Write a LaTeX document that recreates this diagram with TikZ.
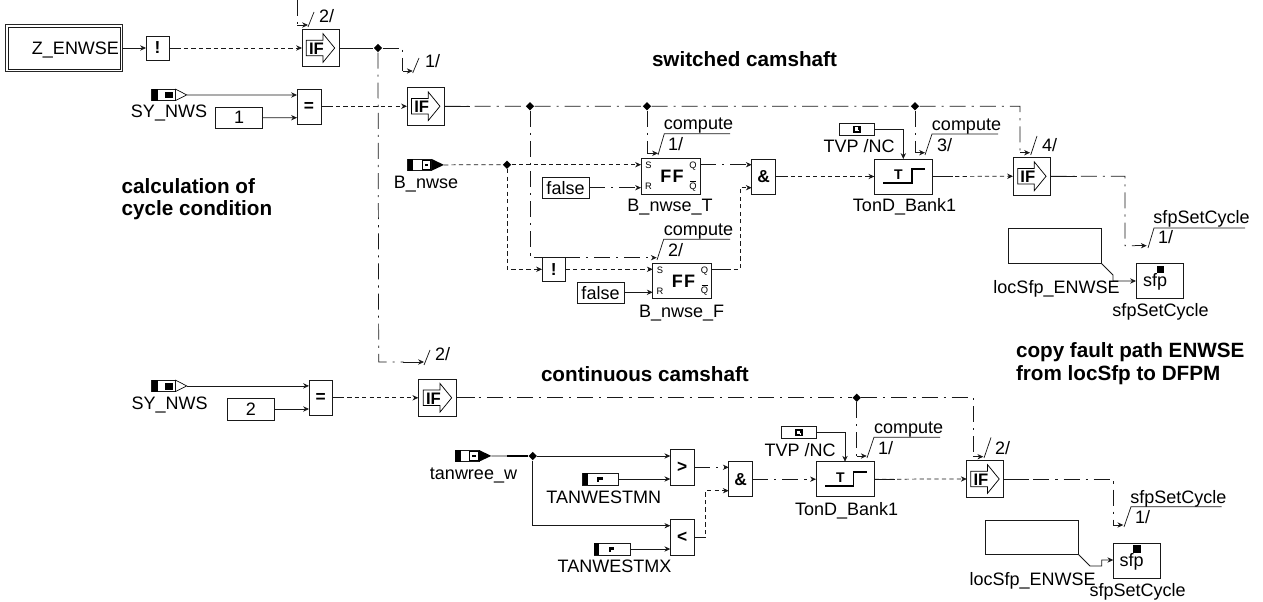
\documentclass[tikz,border=0pt]{standalone}
\usepackage{fontspec}
\setmainfont{Liberation Sans}
\usetikzlibrary{arrows.meta,shapes.geometric}
\newcommand\fsN{\fontsize{13.5}{15}\selectfont}
\newcommand\fsB{\fontsize{15.5}{17}\selectfont\bfseries}
\newcommand\fsS{\fontsize{7}{8}\selectfont}
% name x1 y1 x2 y2 text
\newcommand\blk[6]{\node[blk,minimum width={(#4-#2)*0.75pt},minimum height={(#5-#3)*0.75pt}] (#1) at ({(#2+#4)/2},{(#3+#5)/2}) {#6};}
\newcommand\lab[4][base]{\node[lbl,anchor=#1] (#2) at ({#3}) {#4};}
% IF block: name x1 y1 x2 y2
\newcommand\ifblk[5]{\blk{#1}{#2}{#3}{#4}{#5}{}
 \draw[shift={(#1.center)},line width=.55pt] (-14.2,-7.8) -- (2.5,-7.8) -- (2.5,-14.3) -- (14.2,0) -- (2.5,14.3) -- (2.5,7.8) -- (-14.2,7.8) -- cycle;
 \node[font=\fontsize{12.5}{14}\selectfont\bfseries,inner sep=0pt] (#1sym) at ([shift={(-4,0.5)}]#1.center) {IF};}
% flip-flop
\newcommand\ffblk[5]{\blk{#1}{#2}{#3}{#4}{#5}{}
 \node[font=\fontsize{13.5}{15}\selectfont\bfseries,inner sep=0pt] (#1f) at ([shift={(1.5,0)}]#1.center) {F\kern.8pt F};
 \node[font=\fsS,inner sep=0pt] (#1s) at ([shift={(-22,-10.5)}]#1.center) {S};
 \node[font=\fsS,inner sep=0pt] (#1r) at ([shift={(-22,10)}]#1.center) {R};
 \node[font=\fsS,inner sep=0pt] (#1q) at ([shift={(22.5,-10)}]#1.center) {Q};
 \node[font=\fsS,inner sep=0pt] (#1n) at ([shift={(22.5,10.5)}]#1.center) {Q};
 \draw[line width=.5pt] ([shift={(-3,-5.8)}]#1n.center) -- ([shift={(3,-5.8)}]#1n.center);}
% open signal tag: name x y
\newcommand\tagopen[3]{\blk{#1}{#2}{#3}{#2+23.5}{#3+11.7}{}
 \fill (#2,#3) rectangle (#2+6.5,#3+11.7);
 \fill (#2+13.5,#3+2.8) rectangle (#2+21.5,#3+9.5);
 \coordinate (#1tip) at (#2+35,#3+5.9);
 \draw[line width=.5pt] (#2+23.5,#3) -- (#1tip) -- (#2+23.5,#3+11.7);}
% filled signal tag
\newcommand\tagfill[3]{\blk{#1}{#2}{#3}{#2+24}{#3+11.7}{}
 \fill (#2,#3) rectangle (#2+5.5,#3+11.7);
 \draw[line width=.7pt] (#2+14.5,#3+1.8) rectangle (#2+23,#3+10);
 \fill (#2+16.8,#3+4.6) rectangle (#2+20.5,#3+7.2);
 \coordinate (#1tip) at (#2+36.3,#3+5.9);
 \fill (#2+24,#3) -- (#1tip) -- (#2+24,#3+11.7) -- cycle;}
% parameter tag with black left part
\newcommand\tagpar[3]{\blk{#1}{#2}{#3}{#2+35.6}{#3+11.7}{}
 \fill (#2,#3) rectangle (#2+5,#3+11.7);
 \fill (#2+14.5,#3+3.2) rectangle (#2+20,#3+6.8);
 \fill (#2+14.5,#3+3.2) rectangle (#2+16.5,#3+9);}
% TVP tag
\newcommand\tagtvp[3]{\blk{#1}{#2}{#3}{#2+35.6}{#3+12}{}
 \fill (#2+14.3,#3+2.6) rectangle (#2+21.8,#3+9.6);
 \fill[white] (#2+15.8,#3+4.1) rectangle (#2+19,#3+7.6);
 \fill[white] (#2+19,#3+6.4) rectangle (#2+20.4,#3+8.2);}
\tikzset{
 x=0.75pt,y=-0.75pt,
 >={Stealth[length=4.4pt,width=4pt]},
 wire/.style={line width=.55pt,draw=black!90},
 dotw/.style={wire,dash pattern=on 3.2pt off 2.4pt},
 ddw/.style={wire,dash pattern=on 12pt off 4.5pt on 1.6pt off 4.5pt},
 blk/.style={draw=black!90,line width=.6pt,fill=white,inner sep=0pt,outer sep=0pt,font=\fsN},
 dbl/.style={line width=.6pt,draw=black!85},
 lbl/.style={inner sep=0pt,outer sep=0pt,font=\fsN},
 bold/.style={inner sep=0pt,outer sep=0pt,font=\fsB,anchor=base west},
 jct/.style={diamond,fill=black,inner sep=0pt,minimum size=6.4pt},
}
\begin{document}
\begin{tikzpicture}
\useasboundingbox (0,0) rectangle (1263,602);
\fill[white] (0,0) rectangle (1263,602);
\coordinate (topfree) at (297,0);
% Z_ENWSE
\draw[dbl] (5.8,24.8) rectangle (122.2,71.2);
\blk{zen}{8}{27}{120}{69}{}
\lab[base east]{zent}{119,55}{Z\_ENWSE}
\blk{not1}{146}{36}{169}{60}{\fontsize{13}{15}\selectfont\bfseries !}
\ifblk{if1}{302}{29.5}{339}{66.5}
\draw[wire,->] (zen.east) ++(2,0) -- (not1.west);
\draw[dotw,->] (not1.east) -- (if1.west);
\draw[wire] (not1.east) -- ++(10,0);
\draw[ddw] (topfree) -- (297,25) coordinate (c1);
\coordinate (s1) at (308,25);
\draw[wire,->] (c1) -- (s1);
\draw[wire] (308,27) -- (314,12);
\lab[base west]{t2a}{319,23}{2/}
\node[jct] (j1) at (378,48) {};
\draw[wire] (if1.east) -- (j1.west);
\coordinate (c2) at (402.7,48);
\coordinate (c3) at (402.7,71);
\coordinate (s2) at (412.7,71);
\draw[ddw] (j1) -- (c2) -- (c3);
\draw[wire,->] (c3) -- (s2);
\draw[wire] (412.7,73) -- (419,58);
\lab[base west]{t1a}{425,68}{1/}
% SY_NWS 1
\tagopen{sy1}{151.7}{89}
\lab{sy1t}{169,118}{SY\_NWS}
\blk{c1b}{215.7}{107.5}{262.5}{128}{1}
\blk{eq1}{297}{89}{321}{124}{\fontsize{13}{15}\selectfont\bfseries =}
\ifblk{if2}{407}{87.5}{444.5}{125}
\coordinate (eq1a) at (297,95);
\coordinate (eq1b) at (297,117.7);
\draw[wire,->] (sy1tip) -- (eq1a);
\draw[wire,->] (c1b.east) -- (eq1b);
\draw[dotw,->] (eq1.east |- if2.west) -- (if2.west);
\draw[wire] (eq1.east |- if2.west) -- ++(10,0);
% main line switched
\node[jct] (j2) at (530,106.3) {};
\node[jct] (j3) at (647,106.3) {};
\node[jct] (j4) at (915,106.3) {};
\coordinate (c4) at (1020,106.3);
\coordinate (c5) at (1020,152.7);
\coordinate (s4) at (1030,152.7);
\draw[wire] (if2.east) -- ++(25,0);
\draw[ddw] (if2.east) -- (j2) -- (j3) -- (j4) -- (c4) -- (c5);
\draw[wire,->] (c5) -- (s4);
\draw[wire] (1030.7,155) -- (1037,136);
\lab[base west]{t4}{1042,152}{4/}
% vertical line from j1
\coordinate (c6) at (378.7,362);
\coordinate (s6) at (424,362);
\draw[ddw] (j1) -- (c6) -- ++(25,0);
\draw[wire,->] (403,362) -- (s6);
\draw[wire] (424,365) -- (430,350);
\lab[base west]{t2b}{435,360.5}{2/}
% B_nwse
\tagfill{bn}{407.7}{159}
\lab{bnt}{426,189}{B\_nwse}
\ffblk{ff1}{641}{158.3}{700}{194}
\blk{fa1}{542}{177.7}{589}{198.3}{false}
\lab{ff1t}{670,212}{B\_nwse\_T}
\node[jct] (j5) at (507,164.7) {};
\coordinate (ff1s) at (641,164.7);
\coordinate (ff1r) at (641,187.7);
\draw[dotw] (bntip) -- (j5);
\draw[dotw,->] (j5) -- (ff1s);
\draw[ddw,->] (fa1.east |- ff1r) -- (ff1r);
\coordinate (c7) at (647,153.3);
\coordinate (s7) at (658,153.3);
\draw[ddw] (j3) -- (c7);
\draw[wire,->] (c7) -- (s7);
\draw[wire] (658,155) -- (664.3,133.7) -- (730,133.7);
\lab[base]{tc1}{698.5,130}{compute}
\lab[base west]{t1b}{668,151}{1/}
% second FF
\blk{not2}{542}{257.7}{565.7}{281.3}{\fontsize{13}{15}\selectfont\bfseries !}
\ffblk{ff2}{652.7}{263.3}{711.3}{298.7}
\blk{fa2}{577}{282.3}{624}{303.3}{false}
\lab{ff2t}{681.7,317}{B\_nwse\_F}
\coordinate (c8) at (507,269.3);
\draw[dotw,->] (j5) -- (c8) -- (not2.west |- c8);
\coordinate (ff2s) at (652.7,269.3);
\coordinate (ff2r) at (652.7,292.3);
\draw[dotw,->] (not2.east |- c8) -- (ff2s);
\draw[wire,->] (fa2.east |- ff2r) -- (ff2r);
\coordinate (c9) at (530,257.7);
\coordinate (s9) at (656.7,257.7);
\draw[ddw,->] (j2) -- (c9) -- (s9);
\draw[wire] (657,260) -- (663.7,239.3) -- (730,239.3);
\lab[base]{tc2}{698.5,235.5}{compute}
\lab[base west]{t2c}{668,257}{2/}
% AND
\blk{and1}{751.7}{159}{775.7}{194}{\fontsize{13}{15}\selectfont\bfseries \&}
\coordinate (and1a) at (751.7,164.7);
\coordinate (and1b) at (751.7,187.7);
\draw[ddw,->] (700,164.7) -- (and1a);
\draw[wire] (700,164.7) -- ++(12,0);
\coordinate (c10) at (740,269.3);
\coordinate (c11) at (740,187.7);
\draw[dotw,->] (711.3,269.3) -- (c10) -- (c11) -- (and1b);
\draw[wire] (711.3,269.3) -- ++(15,0);
% TonD 1
\blk{ton1}{874.3}{159}{932.7}{194}{}
\draw[line width=1.3pt] (883.3,183.3) -- (911.7,183.3) -- (911.7,169) -- (925,169);
\node[font=\fontsize{10.5}{12}\selectfont\bfseries,inner sep=0pt] (ton1T) at (898.3,174.5) {T};
\lab{ton1t}{904.5,212}{TonD\_Bank1}
\draw[dotw,->] (and1.east) -- (ton1.west);
\draw[wire] (and1.east) -- ++(12,0);
\tagtvp{tvp1}{839}{123.3}
\lab{tvp1t}{859,153}{TVP /NC}
\coordinate (c12) at (903.3,129.3);
\draw[wire,->] (tvp1.east) -- (c12) -- (903.3,159);
\coordinate (c13) at (915,152.7);
\coordinate (s13) at (925,152.7);
\draw[ddw] (j4) -- (c13);
\draw[wire,->] (c13) -- (s13);
\draw[wire] (925,155) -- (932,134) -- (998,134);
\lab[base]{tc3}{966.5,130.5}{compute}
\lab[base west]{t3}{937,151.5}{3/}
% IF4
\ifblk{if4}{1013}{157.5}{1050.7}{195}
\draw[dotw,->] (ton1.east) -- (if4.west);
\draw[wire] (ton1.east) -- ++(20,0);
\coordinate (c14) at (1125,176.3);
\coordinate (c15) at (1125,245.7);
\coordinate (s15) at (1146.7,245.7);
\draw[wire] (if4.east) -- ++(26,0);
\draw[ddw] (if4.east) -- (c14) -- (c15) -- (1135,245.7);
\draw[wire,->] (1135,245.7) -- (s15);
\draw[wire] (1148,248) -- (1154,228) -- (1245,228);
\lab[base]{ts1}{1201.5,223.5}{sfpSetCycle}
\lab[base west]{t1c}{1158,243.5}{1/}
% sfp 1
\blk{em1}{1008}{228.7}{1101.7}{263.7}{}
\lab{em1t}{1056.5,293}{locSfp\_ENWSE}
\blk{sfp1}{1136}{263.7}{1183}{298}{}
\fill (1156.7,266) rectangle (1164,273);
\node[lbl] (sfp1t) at (1155,281.5) {sfp};
\lab{sfp1n}{1160.5,316.5}{sfpSetCycle}
\coordinate (c16) at (1113,275);
\coordinate (c17) at (1113,281);
\draw[wire,->] (em1.south east) -- (c16) -- (c17) -- (sfp1.west |- c17);
% lower: SY_NWS 2
\tagopen{sy2}{151.7}{380}
\lab{sy2t}{169.7,409.5}{SY\_NWS}
\blk{c2b}{227.7}{398.7}{274.3}{420}{2}
\blk{eq2}{309}{380}{332.3}{415.3}{\fontsize{13}{15}\selectfont\bfseries =}
\ifblk{if3}{418.3}{379.3}{456.7}{416.3}
\coordinate (eq2a) at (309,385.9);
\coordinate (eq2b) at (309,409);
\draw[wire,->] (sy2tip) -- (eq2a);
\draw[wire,->] (c2b.east |- eq2b) -- (eq2b);
\draw[dotw,->] (eq2.east |- if3.west) -- (if3.west);
\draw[wire] (eq2.east |- if3.west) -- ++(8,0);
\node[jct] (j6) at (856.7,397.8) {};
\coordinate (c18) at (973.3,397.8);
\coordinate (c19) at (973.3,456.7);
\coordinate (s19) at (983.3,456.7);
\draw[wire] (if3.east) -- ++(18,0);
\draw[ddw] (if3.east) -- (j6) -- (c18) -- (c19);
\draw[wire,->] (c19) -- (s19);
\draw[wire] (984,458) -- (991,437.5);
\lab[base west]{t2d}{995,454}{2/}
% tanwree
\tagfill{tw}{455}{450}
\lab{twt}{473.5,479.5}{tanwree\_w}
\node[jct] (j7) at (532.7,456) {};
\draw[wire] (twtip) -- (j7);
\draw[line width=1.1pt] (507,456) -- (j7);
\blk{gt}{670.3}{449.7}{694}{485}{\fontsize{13}{15}\selectfont\bfseries >}
\blk{lt}{670.3}{519.7}{694}{555}{\fontsize{13}{15}\selectfont\bfseries <}
\coordinate (gta) at (670.3,456);
\coordinate (gtb) at (670.3,479);
\coordinate (lta) at (670.3,525.7);
\coordinate (ltb) at (670.3,549);
\coordinate (c20) at (532.7,525.7);
\draw[wire,->] (j7) -- (gta);
\draw[wire,->] (j7) -- (c20) -- (lta);
\tagpar{pmn}{582.7}{473.3}
\lab{pmnt}{603.7,503}{TANWESTMN}
\tagpar{pmx}{594.3}{543.3}
\lab{pmxt}{614.5,572}{TANWESTMX}
\draw[wire,->] (pmn.east |- gtb) -- (gtb);
\draw[wire,->] (pmx.east |- ltb) -- (ltb);
\blk{and2}{728.7}{461.7}{752.3}{496.7}{\fontsize{13}{15}\selectfont\bfseries \&}
\coordinate (and2a) at (728.7,467.3);
\coordinate (and2b) at (728.7,490.7);
\draw[ddw,->] (694,467.3) -- (and2a);
\coordinate (c21) at (705.7,537.3);
\coordinate (c22) at (705.7,490.7);
\draw[dotw,->] (694,537.3) -- (c21) -- (c22) -- (and2b);
\draw[wire] (694,537.3) -- (c21);
% TonD 2
\blk{ton2}{816}{461.7}{874.7}{496.7}{}
\draw[line width=1.3pt] (825,486) -- (853.4,486) -- (853.4,471.7) -- (866.7,471.7);
\node[font=\fontsize{10.5}{12}\selectfont\bfseries,inner sep=0pt] (ton2T) at (840.5,477.2) {T};
\lab{ton2t}{846.7,515}{TonD\_Bank1}
\draw[ddw,->] (and2.east) -- (ton2.west);
\draw[wire] (and2.east) -- ++(10,0);
\tagtvp{tvp2}{781}{426.4}
\lab{tvp2t}{800,456}{TVP /NC}
\coordinate (c23) at (845,432.4);
\draw[wire,->] (tvp2.east) -- (c23) -- (845,461.7);
\coordinate (c24) at (856.7,456);
\coordinate (s24) at (866.7,456);
\draw[ddw] (j6) -- (c24);
\draw[wire,->] (c24) -- (s24);
\draw[wire] (867,458) -- (874,437.3) -- (940,437.3);
\lab[base]{tc4}{908.7,433.5}{compute}
\lab[base west]{t1d}{878,454}{1/}
% IF5
\ifblk{if5}{966.7}{460.7}{1003.3}{497.3}
\draw[dotw,->] (ton2.east) -- (if5.west);
\draw[wire] (ton2.east) -- ++(20,0);
\coordinate (c25) at (1113.3,479);
\coordinate (c26) at (1113.3,525);
\coordinate (s26) at (1123.3,525);
\draw[wire] (if5.east) -- ++(26,0);
\draw[ddw] (if5.east) -- (c25) -- (c26);
\draw[wire,->] (c26) -- (s26);
\draw[wire] (1124,527) -- (1131,506.7) -- (1221.7,506.7);
\lab[base]{ts2}{1178.4,503}{sfpSetCycle}
\lab[base west]{t1e}{1135,523}{1/}
% sfp 2
\blk{em2}{985}{520}{1078.3}{554.3}{}
\lab{em2t}{1032.7,585}{locSfp\_ENWSE}
\blk{sfp2}{1113.3}{543.3}{1160}{578.3}{}
\fill (1133.3,545.3) rectangle (1140.7,552.7);
\node[lbl] (sfp2t) at (1131.7,561.5) {sfp};
\lab{sfp2n}{1137.7,596.5}{sfpSetCycle}
\coordinate (c27) at (1090,566);
\coordinate (c28) at (1101.7,566);
\coordinate (c29) at (1101.7,560);
\draw[wire,->] (em2.south east) -- (c27) -- (c28) -- (c29) -- (sfp2.west |- c29);
% headings
\node[bold] (h1) at (652,66.5) {switched camshaft};
\node[bold] (h2) at (121.7,194) {calculation of};
\node[bold] (h3) at (121.7,216) {cycle condition};
\node[bold] (h4) at (1016,357.5) {copy fault path ENWSE};
\node[bold] (h5) at (1016,380.5) {from locSfp to DFPM};
\node[bold] (h6) at (541,381.5) {continuous camshaft};
\end{tikzpicture}
\end{document}
